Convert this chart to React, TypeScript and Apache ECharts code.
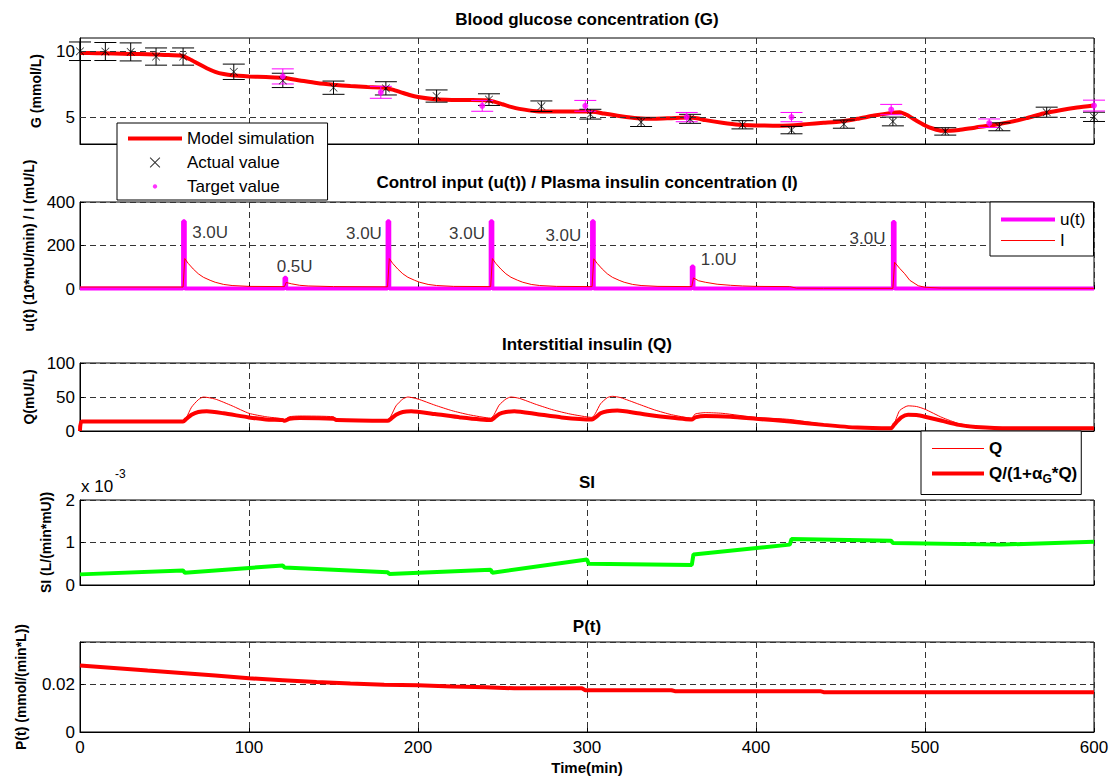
import React, { useEffect, useRef } from "react";
import * as echarts from "echarts";

const FONT = '"Liberation Sans", Arial, Helvetica, sans-serif';

// ---------- Panel 1: Blood glucose concentration (G)
const modelT = [0,10,20,30,40,50,60,65,70,75,80,85,90,100,110,120,130,140,150,160,170,180,185,190,195,200,210,220,230,240,245,250,255,260,270,280,290,300,305,310,320,330,340,350,360,365,370,380,390,400,410,420,430,440,450,460,470,480,485,490,495,500,505,510,515,520,530,540,550,560,570,580,590,600];
const modelG = [9.87,9.85,9.83,9.8,9.77,9.72,9.66,9.4,9.05,8.72,8.45,8.28,8.18,8.1,8.05,8.0,7.8,7.6,7.47,7.38,7.3,7.25,7.1,6.9,6.7,6.55,6.38,6.33,6.32,6.3,6.2,6.0,5.8,5.65,5.48,5.45,5.45,5.45,5.42,5.3,5.1,4.95,4.9,4.95,5.0,4.95,4.8,4.6,4.45,4.4,4.38,4.4,4.5,4.6,4.7,4.9,5.15,5.35,5.4,5.15,4.75,4.4,4.15,4.0,4.0,4.05,4.25,4.42,4.65,4.95,5.3,5.55,5.75,5.9];
const actualT = [0,15,30,45,61,91,120,150,181,211,242,273,302,332,361,392,421,452,481,512,544,572,600];
const actualG = [10.0,9.98,9.95,9.6,9.6,8.45,7.8,7.25,7.2,6.62,6.35,5.85,5.25,4.65,4.9,4.45,4.05,4.5,4.7,3.95,4.3,5.4,5.05];
const actualErr = [0.7,0.68,0.68,0.65,0.65,0.58,0.54,0.5,0.5,0.46,0.44,0.4,0.37,0.33,0.34,0.31,0.28,0.31,0.33,0.28,0.3,0.38,0.35];
const targetT = [120,178,238,299,359,421,480,538,600];
const targetG = [8.1,6.9,5.88,5.88,5.03,5.03,5.6,4.57,5.9];
const targetErr = [0.57,0.45,0.41,0.41,0.35,0.35,0.39,0.32,0.41];
const gGridValues = [5, 10];

// ---------- Panel 2: Control input u(t) / Plasma insulin I
const bolusT = [61,121,182,243,303,362,481];
const bolusU = [312,52,312,312,312,104,308];
const basalU = 2;
const annoT = [77,127,168,229,286,378,466];
const annoY = [260,104,255,255,246,136,232];
const annoText = ["3.0U","0.5U","3.0U","3.0U","3.0U","1.0U","3.0U"];
const insT = [0,61,62,64,67,70,73,77,80,85,90,100,121,122,125,130,135,150,182,183,185,188,191,194,198,201,206,211,221,243,244,246,249,252,255,259,262,267,272,282,303,304,306,309,312,315,319,322,327,332,342,362,363,366,370,377,385,392,400,420,424,440,481,482,485,488,491,496,500,510,600];
const insI = [9,9,140,118,92,70,54,40,31,21,16,12,11,30,24,17,14,11,10,140,118,92,70,54,40,31,21,16,12,11,140,118,92,70,54,40,31,21,16,12,11,139,118,92,70,54,40,31,21,16,12,11,51,38,31,22,17,14,12,11,4,3,3,123,95,70,40,15,8,4,3];

// ---------- Panel 3: Interstitial insulin Q
const qT = [0,1,61,63,66,70,73,80,90,100,110,120,121,124,130,150,152,182,184,187,191,194,200,210,220,230,243,245,248,252,255,260,270,280,290,303,305,308,312,315,320,330,340,350,362,364,370,380,400,420,440,460,480,482,485,490,495,500,510,520,530,550,600];
const qV = [0,14,14,20,35,46,50,47,37,26,21,18,17,21,22,21,17,16,22,37,47,50,47,38,30,24,19,24,38,47,50,48,39,31,25,20,26,40,49,51,49,40,31,24,19,25,27,26,20,17,10,5,4,12,30,37,36,32,20,11,7,4,4];
const qeT = [0,1,61,63,66,70,75,85,100,110,120,121,124,130,150,152,182,184,187,191,196,210,225,243,245,248,252,257,270,285,303,305,308,312,318,330,345,362,364,370,385,400,420,440,460,480,482,486,490,495,500,510,520,530,550,600];
const qeV = [0,14,14,18,24,28,29,26,20,17,16,15,18,19,18,16,15,18,24,28,29,25,20,16,19,25,28,29,25,20,17,20,26,29,30,26,21,17,20,22,21,18,14,9,5,4,10,20,24,23.5,21,15,9,6,4,4];

// ---------- Panel 4: SI
const siT = [0,61,62,120,121,182,183,243,244,300,301,362,363,420,421,480,481,545,600];
const siV = [0.25e-3,0.34e-3,0.29e-3,0.46e-3,0.41e-3,0.30e-3,0.26e-3,0.36e-3,0.29e-3,0.60e-3,0.50e-3,0.47e-3,0.72e-3,0.95e-3,1.08e-3,1.04e-3,0.99e-3,0.95e-3,1.02e-3];

// ---------- Panel 5: P(t)
const pT = [0,20,40,60,80,100,120,140,160,180,200,220,240,257,297,299,350,352,438,440,600];
const pV = [0.0277,0.0267,0.0256,0.0246,0.0235,0.0224,0.0216,0.0208,0.0202,0.0197,0.0195,0.0190,0.0186,0.0182,0.0182,0.0174,0.0174,0.0170,0.0170,0.0166,0.0166];

const zip = (a: number[], b: number[]) => a.map((v, i) => [v, b[i]]);

const RED = "#ff0000";
const MAG = "#ff00ff";
const GREEN = "#00ff00";
const GRID_LINE = { color: "#333", type: [6, 4] as any, width: 1 };

const X_ICON = "path://M0,0 M12,12 M1.5,2.1 L2.1,1.5 L6,5.4 L9.9,1.5 L10.5,2.1 L6.6,6 L10.5,9.9 L9.9,10.5 L6,6.6 L2.1,10.5 L1.5,9.9 L5.4,6 Z";
const DOT_ICON = "path://M0,0 M12,12 M6,4.1 A1.9,1.9 0 1 1 5.99,4.1 Z";
const THICK_LINE_ICON = "path://M0,0 L54,0 L54,4 L0,4 Z";
const THIN_LINE_ICON = "path://M0,0 L54,0 L54,1 L0,1 Z";

function errorBarRender(color: string) {
  return (params: any, api: any) => {
    const x = api.value(0), y = api.value(1), e = api.value(2);
    const top = api.coord([x, y + e]);
    const bot = api.coord([x, y - e]);
    const cw = 11;
    const style = { stroke: color, lineWidth: 1 };
    return {
      type: "group",
      children: [
        { type: "line", shape: { x1: top[0], y1: top[1], x2: bot[0], y2: bot[1] }, style },
        { type: "line", shape: { x1: top[0] - cw, y1: top[1], x2: top[0] + cw, y2: top[1] }, style },
        { type: "line", shape: { x1: bot[0] - cw, y1: bot[1], x2: bot[0] + cw, y2: bot[1] }, style },
      ],
    };
  };
}

function buildOption(): any {
  const L = 80, W = 1014;
  const gridPos = [[38, 106], [202, 87], [363, 68], [500, 85], [642, 90]];
  const grid = gridPos.map(([top, height]) => ({
    left: L, width: W, top, height, show: true, borderColor: "#000", borderWidth: 1, backgroundColor: "#fff",
  }));
  const xAxis = gridPos.map((_, i) => ({
    type: "value", gridIndex: i, min: 0, max: 600, interval: 100,
    axisLine: { show: true, onZero: false, lineStyle: { color: "#000", width: 1 } },
    axisTick: { show: true, inside: true, length: 4, lineStyle: { color: "#000" } },
    axisLabel: { show: i === 4, color: "#000", fontSize: 17, fontFamily: FONT, margin: 7 },
    splitLine: { show: true, lineStyle: GRID_LINE },
    name: i === 4 ? "Time(min)" : "",
    nameLocation: "middle", nameGap: 28,
    nameTextStyle: { fontSize: 15, fontWeight: "bold", color: "#000", fontFamily: FONT },
  }));
  const yName = (name: string, gap: number) => ({
    name, nameLocation: "middle", nameGap: gap,
    nameTextStyle: { fontSize: 14, fontWeight: "bold", color: "#000", fontFamily: FONT },
  });
  const yBase = {
    type: "value",
    axisLine: { show: true, onZero: false, lineStyle: { color: "#000", width: 1 } },
    axisTick: { show: true, inside: true, length: 4, lineStyle: { color: "#000" } },
    splitLine: { show: true, lineStyle: GRID_LINE },
  };
  const lab = (fmt?: (v: number) => string) => ({
    color: "#000", fontSize: 17, fontFamily: FONT, margin: 5, ...(fmt ? { formatter: fmt } : {}),
  });
  const yAxis = [
    { ...yBase, gridIndex: 0, min: 3, max: 11, interval: 1,
      axisTick: { ...yBase.axisTick, customValues: gGridValues },
      axisLabel: { ...lab((v) => (gGridValues.includes(v) ? String(v) : "")), customValues: gGridValues },
      splitLine: { show: false }, ...yName("G (mmol/L)", 37) },
    { ...yBase, gridIndex: 1, min: 0, max: 400, interval: 200, axisLabel: lab(), ...yName("u(t) (10*mU/min) / I (mU/L)", 44) },
    { ...yBase, gridIndex: 2, min: 0, max: 100, interval: 50, axisLabel: lab(), ...yName("Q(mU/L)", 43) },
    { ...yBase, gridIndex: 3, min: 0, max: 0.002, interval: 0.001,
      axisLabel: lab((v) => String(Math.round(v * 1000))), ...yName("SI (L/(min*mU))", 27) },
    { ...yBase, gridIndex: 4, min: 0, max: 0.0375, interval: 0.02,
      axisLabel: lab((v) => (Math.abs(v) < 1e-9 ? "0" : Math.abs(v - 0.02) < 1e-9 ? "0.02" : "")),
      ...yName("P(t) (mmol/(min*L))", 52) },
  ];

  const uData: number[][] = [[0, basalU]];
  bolusT.forEach((t, i) => {
    uData.push([t, basalU], [t, bolusU[i]], [t + 1, bolusU[i]], [t + 1, basalU]);
  });
  uData.push([600, basalU]);

  const titleStyle = { fontSize: 17, fontWeight: "bold", color: "#000", fontFamily: FONT };
  const titles = [
    ["Blood glucose concentration (G)", 11],
    ["Control input (u(t)) / Plasma insulin concentration (I)", 174],
    ["Interstitial insulin (Q)", 336],
    ["SI", 474],
    ["P(t)", 618],
  ].map(([text, top]) => ({ text, left: 587, top, textAlign: "center", padding: 0, textStyle: titleStyle }));

  const legendCommon = {
    orient: "vertical", itemHeight: 14, borderColor: "#000", borderWidth: 1, backgroundColor: "#fff",
    selectedMode: false, z: 20,
  };

  return {
    animation: false,
    backgroundColor: "#fff",
    title: titles,
    grid, xAxis, yAxis,
    legend: [
      { ...legendCommon,
        data: [{ name: "Model simulation", icon: THICK_LINE_ICON }, { name: "Actual value", icon: X_ICON }, { name: "Target value", icon: DOT_ICON }],
        left: 117, top: 123, itemWidth: 54, itemGap: 7, padding: [7, 13, 5, 11],
        textStyle: { fontSize: 17, color: "#000", fontFamily: FONT } },
      { ...legendCommon,
        data: [{ name: "u(t)", icon: THICK_LINE_ICON }, { name: "I", icon: THIN_LINE_ICON }],
        left: 990, top: 202, itemWidth: 54, itemGap: 4, padding: [9, 8, 7, 11],
        textStyle: { fontSize: 17, color: "#000", fontFamily: FONT } },
      { ...legendCommon,
        data: [{ name: "Q", icon: THIN_LINE_ICON }, { name: "Q/(1+αG*Q)", icon: THICK_LINE_ICON }],
        left: 921, top: 431, itemWidth: 52, itemGap: 8, padding: [9, 4, 10, 11],
        formatter: (n: string) => (n === "Q/(1+αG*Q)" ? "Q/(1+α{sub|G}*Q)" : n),
        textStyle: { fontSize: 17, fontWeight: "bold", color: "#000", fontFamily: FONT,
          rich: { sub: { fontSize: 12, fontWeight: "bold", color: "#000", fontFamily: FONT, padding: [10, 0, 0, 0] } } } },
    ],
    graphic: [
      { type: "text", left: 81, top: 478, style: { text: "x 10", fontSize: 17, fill: "#000", fontFamily: FONT } },
      { type: "text", left: 115, top: 468, style: { text: "-3", fontSize: 12, fill: "#000", fontFamily: FONT } },
    ],
    series: [
      { name: "Model simulation", type: "line", xAxisIndex: 0, yAxisIndex: 0, data: zip(modelT, modelG),
        symbol: "none", smooth: 0.2, lineStyle: { color: RED, width: 4 }, itemStyle: { color: RED }, z: 3,
        markLine: { silent: true, symbol: ["none", "none"], label: { show: false }, lineStyle: GRID_LINE,
          data: gGridValues.map((v) => ({ yAxis: v })) } },
      { name: "actualErr", type: "custom", xAxisIndex: 0, yAxisIndex: 0,
        data: actualT.map((t, i) => [t, actualG[i], actualErr[i]]), renderItem: errorBarRender("#000"), z: 4 },
      { name: "Actual value", type: "scatter", xAxisIndex: 0, yAxisIndex: 0, data: zip(actualT, actualG),
        symbol: X_ICON, symbolSize: 11, itemStyle: { color: "#000" }, z: 5 },
      { name: "targetErr", type: "custom", xAxisIndex: 0, yAxisIndex: 0,
        data: targetT.map((t, i) => [t, targetG[i], targetErr[i]]), renderItem: errorBarRender(MAG), z: 4 },
      { name: "Target value", type: "scatter", xAxisIndex: 0, yAxisIndex: 0, data: zip(targetT, targetG),
        symbol: "circle", symbolSize: 6, itemStyle: { color: MAG }, z: 5 },

      { name: "u(t)", type: "line", xAxisIndex: 1, yAxisIndex: 1, data: uData, symbol: "none",
        lineStyle: { color: MAG, width: 4 }, itemStyle: { color: MAG }, z: 3 },
      { name: "I", type: "line", xAxisIndex: 1, yAxisIndex: 1, data: zip(insT, insI), symbol: "none",
        lineStyle: { color: RED, width: 1 }, itemStyle: { color: RED }, z: 4 },
      { name: "dose", type: "scatter", xAxisIndex: 1, yAxisIndex: 1, symbolSize: 1,
        itemStyle: { color: "rgba(0,0,0,0)" },
        data: annoT.map((t, i) => ({ name: annoText[i], value: [t, annoY[i]] })),
        label: { show: true, position: "inside", formatter: "{b}", fontSize: 17, color: "#000", fontFamily: FONT }, z: 6 },

      { name: "Q", type: "line", xAxisIndex: 2, yAxisIndex: 2, data: zip(qT, qV), symbol: "none", smooth: 0.2,
        lineStyle: { color: RED, width: 1 }, itemStyle: { color: RED }, z: 3 },
      { name: "Q/(1+αG*Q)", type: "line", xAxisIndex: 2, yAxisIndex: 2, data: zip(qeT, qeV), symbol: "none", smooth: 0.2,
        lineStyle: { color: RED, width: 4 }, itemStyle: { color: RED }, z: 4 },

      { name: "SI", type: "line", xAxisIndex: 3, yAxisIndex: 3, data: zip(siT, siV), symbol: "none",
        lineStyle: { color: GREEN, width: 4 }, itemStyle: { color: GREEN }, z: 3 },

      { name: "P(t)", type: "line", xAxisIndex: 4, yAxisIndex: 4, data: zip(pT, pV), symbol: "none",
        lineStyle: { color: RED, width: 4 }, itemStyle: { color: RED }, z: 3 },
    ],
  };
}

export default function App() {
  const ref = useRef<HTMLDivElement>(null);
  useEffect(() => {
    if (!ref.current) return;
    const chart = echarts.init(ref.current, null, { renderer: "svg" });
    chart.setOption(buildOption());
    return () => chart.dispose();
  }, []);
  return (
    <div
      ref={ref}
      style={{ position: "fixed", left: 0, top: 0, width: 1118, height: 778, background: "#fff" }}
    />
  );
}
